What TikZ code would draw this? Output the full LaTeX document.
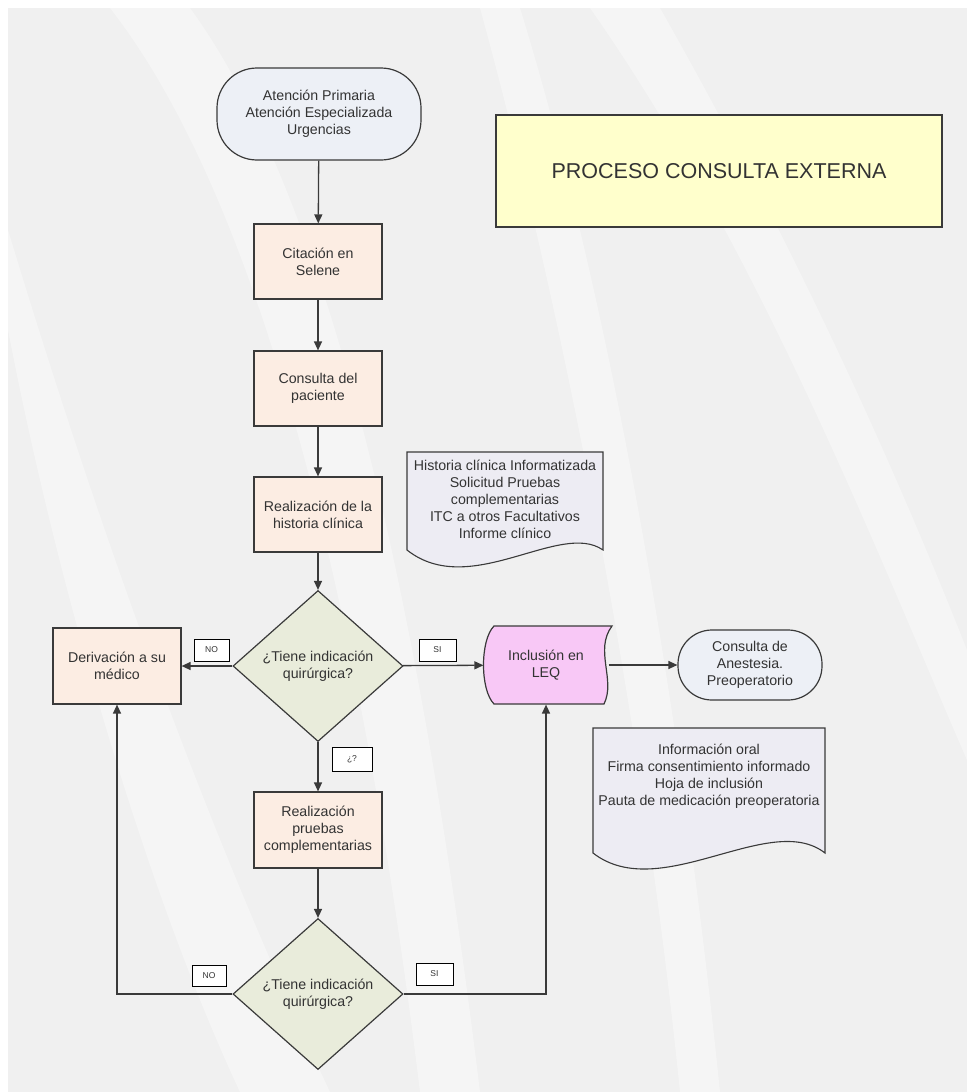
\documentclass[tikz,border=0pt]{standalone}
\usepackage{fontspec}
\setmainfont{Liberation Sans}
\usetikzlibrary{shapes.geometric,arrows.meta,positioning}
\definecolor{bggray}{HTML}{F0F0F0}
\definecolor{termfill}{HTML}{EDF0F6}
\definecolor{procfill}{HTML}{FCEDE3}
\definecolor{decfill}{HTML}{E9ECDB}
\definecolor{titlefill}{HTML}{FFFFCC}
\definecolor{leqfill}{HTML}{F8C8F6}
\definecolor{docfill}{HTML}{EDECF3}
\definecolor{edge}{HTML}{3A3A3A}
\definecolor{txt}{HTML}{333333}
\tikzset{
  base/.style={draw=edge, line width=1.2pt, text=txt, align=center, inner sep=0pt,
    font=\fontsize{14.2}{17}\selectfont},
  term/.style={base, fill=termfill, rounded corners=40pt},
  proc/.style={base, fill=procfill, minimum width=128pt, minimum height=76pt},
  dec/.style={base, diamond, fill=decfill, minimum width=170pt, minimum height=151pt},
  lbl/.style={draw=black, line width=1pt, fill=white, text=txt, inner sep=0pt,
    font=\fontsize{8.5}{10}\selectfont},
  conn/.style={draw=edge, line width=1.3pt, -{Triangle[length=9pt,width=8pt]}},
  docshape/.style={draw=edge, line width=1.1pt, fill=docfill},
  doctext/.style={text=txt, align=center, font=\fontsize{14.2}{16.8}\selectfont, anchor=north},
  band/.style={fill=white, opacity=0.35, draw=none}
}
\begin{document}
\begin{tikzpicture}[x=1pt,y=-1pt]
% page and background
\fill[white] (0,0) rectangle (967,1092);
\useasboundingbox (0,0) rectangle (967,1092);
\fill[bggray] (8,8) rectangle (967,1092);
\begin{scope}
\clip (8,8) rectangle (967,1092);
\fill[band] (110,8) .. controls (260,200) and (360,600) .. (420,1092) -- (480,1092) .. controls (420,600) and (330,200) .. (190,8) -- cycle;
\fill[band] (8,330) .. controls (60,600) and (150,900) .. (240,1092) -- (330,1092) .. controls (230,880) and (120,600) .. (8,230) -- cycle;
\fill[band] (590,8) .. controls (760,250) and (880,560) .. (967,760) -- (967,650) .. controls (880,430) and (780,220) .. (660,8) -- cycle;
\fill[band] (480,8) .. controls (560,300) and (640,700) .. (680,1092) -- (720,1092) .. controls (680,700) and (610,300) .. (520,8) -- cycle;
\end{scope}

% nodes
\node[term, minimum width=204pt, minimum height=92pt] (start) at (319,114)
  {Atención Primaria\\Atención Especializada\\Urgencias};
\node[base, fill=titlefill, minimum width=446pt, minimum height=112pt,
  font=\fontsize{21.5}{25}\selectfont] (title) at (719,171) {PROCESO CONSULTA EXTERNA};
\node[proc, minimum height=75pt] (cita) at (318,261.5) {Citación en\\Selene};
\node[proc, minimum height=75pt] (cons) at (318,388.5) {Consulta del\\paciente};
\node[proc, minimum height=75pt] (hist) at (318,514.5) {Realización de la\\historia clínica};
\node[dec] (d1) at (318,666) {¿Tiene indicación\\quirúrgica?};
\node[proc] (deriv) at (117,666) {Derivación a su\\médico};
\node[proc, minimum height=76pt] (prue) at (318,830) {Realización\\pruebas\\complementarias};
\node[dec] (d2) at (318,994) {¿Tiene indicación\\quirúrgica?};

% LEQ shape
\node[base, draw=none, minimum width=124pt, minimum height=78pt] (leq) at (546,665) {};
\draw[draw=edge, line width=1.2pt, fill=leqfill]
  (494,626) -- (612,626)
  .. controls (594,650) and (616,680) .. (604,704)
  -- (494,704)
  .. controls (480,690) and (480,640) .. cycle;
\node[text=txt, align=center, font=\fontsize{14.2}{17}\selectfont] (leqtext) at (546,665) {Inclusión en\\LEQ};

\node[term, minimum width=144pt, minimum height=70pt, rounded corners=34pt] (anest) at (750,665)
  {Consulta de\\Anestesia.\\Preoperatorio};

% documents
\draw[docshape] (407,452) -- (603,452) -- (603,550)
  .. controls (560,520) and (470,600) .. (407,550) -- cycle;
\node[doctext] (doc1) at (505,457)
  {Historia clínica Informatizada\\Solicitud Pruebas\\complementarias\\ITC a otros Facultativos\\Informe clínico};
\draw[docshape] (593,728) -- (825,728) -- (825,853)
  .. controls (770,810) and (660,905) .. (593,853) -- cycle;
\node[doctext] (doc2) at (709,741)
  {Información oral\\Firma consentimiento informado\\Hoja de inclusión\\Pauta de medicación preoperatoria};

% labels
\node[lbl, minimum width=35pt, minimum height=22pt] (no1) at (211.5,650) {NO};
\node[lbl, minimum width=37pt, minimum height=22pt] (si1) at (437.5,650) {SI};
\node[lbl, minimum width=40pt, minimum height=24pt] (q) at (352,759) {¿?};
\node[lbl, minimum width=34pt, minimum height=21pt] (no2) at (209,975.5) {NO};
\node[lbl, minimum width=37pt, minimum height=22pt] (si2) at (434.5,974) {SI};

% connectors
\draw[conn] (start) -- (cita);
\draw[conn] (cita) -- (cons);
\draw[conn] (cons) -- (hist);
\draw[conn] (hist) -- (d1);
\draw[conn] (d1) -- (deriv);
\draw[conn] (d1) -- (leq);
\draw[conn] (leq.east) -- (anest);
\draw[conn] (d1) -- (prue);
\draw[conn] (prue) -- (d2);
\draw[conn] (d2.west) -| (deriv.south);
\draw[conn] (d2.east) -| (leq.south);
\end{tikzpicture}
\end{document}
